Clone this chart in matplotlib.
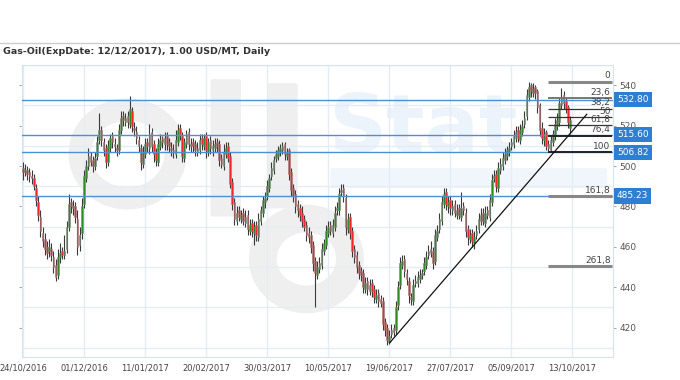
import matplotlib
matplotlib.use("Agg")
from matplotlib import pyplot as plt
from matplotlib.patches import Circle, FancyBboxPatch

# daily candles, 24/10/2016 -> mid Oct 2017 (USD/MT)
opens = [
    499, 497, 498, 497, 495, 494, 489, 482, 475, 467, 464, 460, 458, 459,
    455, 451, 446, 455, 458, 456, 459, 470, 482, 479, 480, 474, 461, 467,
    481, 494, 500, 505, 503, 500, 505, 513, 518, 512, 509, 502, 509, 515,
    511, 509, 508, 518, 525, 522, 525, 521, 527, 519, 517, 513, 509, 501,
    506, 512, 509, 517, 511, 507, 502, 510, 514, 511, 515, 512, 509, 508,
    506, 512, 519, 515, 504, 511, 517, 510, 512, 511, 507, 508, 514, 510,
    515, 507, 513, 508, 509, 512, 511, 504, 500, 506, 510, 505, 492, 482,
    473, 478, 474, 477, 472, 476, 468, 472, 467, 471, 465, 473, 477, 482,
    485, 489, 495, 498, 504, 505, 507, 508, 511, 505, 508, 497, 489, 486,
    481, 479, 477, 474, 471, 467, 466, 461, 453, 446, 449, 451, 458, 461,
    467, 471, 467, 470, 478, 478, 487, 489, 484, 469, 475, 468, 459, 456,
    451, 448, 447, 439, 443, 438, 442, 439, 434, 437, 434, 433, 423, 420,
    413, 417, 420, 419, 431, 441, 451, 454, 447, 443, 435, 433, 442, 442,
    444, 446, 448, 451, 456, 459, 458, 453, 465, 469, 473, 481, 487, 480,
    483, 478, 481, 476, 479, 475, 480, 477, 469, 464, 467, 462, 466, 469,
    473, 477, 472, 478, 475, 482, 494, 496, 489, 498, 500, 503, 505, 507,
    510, 511, 514, 518, 513, 517, 521, 525, 534, 540, 536, 539, 537, 530,
    519, 513, 517, 511, 508, 512, 515, 520, 522, 530, 535, 532, 529, 519,
]
highs = [
    502, 501, 500, 499, 498, 496, 491, 485, 478, 470, 467, 463, 464, 462,
    458, 454, 459, 462, 460, 466, 473, 486, 484, 483, 482, 478, 470, 484,
    498, 503, 509, 507, 505, 507, 515, 526, 520, 514, 511, 513, 516, 517,
    514, 511, 521, 527, 527, 526, 527, 534.6, 529, 522, 520, 515, 511, 510,
    514, 514, 521, 519, 513, 509, 514, 516, 515, 517, 517, 514, 512, 511,
    518, 521, 521, 517, 514, 518, 519, 514, 514, 513, 512, 516, 516, 516,
    517, 514, 515, 513, 514, 514, 513, 506, 511, 512, 512, 507, 494, 484,
    480, 480, 478, 479, 478, 478, 474, 474, 473, 473, 477, 480, 485, 487,
    493, 496, 502, 505, 508, 510, 511, 512, 512, 509, 509, 499, 491, 488,
    483, 481, 480, 476, 473, 470, 468, 463, 455, 453, 455, 462, 464, 471,
    473, 473, 474, 480, 482, 489, 491, 491, 486, 477, 477, 470, 461, 458,
    453, 450, 449, 445, 445, 444, 444, 441, 439, 439, 436, 435, 425, 422,
    419, 422, 422, 433, 443, 455, 456, 456, 449, 445, 437, 444, 446, 448,
    449, 449, 455, 458, 461, 463, 460, 469, 471, 477, 485, 489, 489, 485,
    485, 483, 483, 481, 481, 487, 482, 479, 471, 469, 469, 468, 471, 477,
    479, 479, 480, 480, 486, 496, 498, 498, 502, 504, 507, 509, 510, 512,
    514, 518, 520, 520, 521, 523, 527, 538, 541.75, 541, 541, 540, 538, 531,
    522, 519, 518, 513, 515, 518, 524, 526, 534, 538.7, 537, 534, 530, 525,
]
lows = [
    493, 495, 493, 492, 491, 488, 480, 473, 465, 460, 456, 454, 455, 453,
    447, 443, 444, 452, 454, 454, 457, 468, 477, 476, 472, 456, 458, 464,
    479, 492, 498, 500, 497, 498, 503, 511, 510, 505, 499, 500, 507, 509,
    507, 505, 506, 516, 520, 520, 519, 519, 517, 515, 511, 507, 498, 499,
    504, 507, 506, 507, 502, 500, 500, 508, 509, 508, 508, 507, 505, 504,
    504, 510, 513, 502, 502, 509, 508, 507, 507, 505, 505, 506, 508, 508,
    504, 505, 506, 505, 507, 507, 500, 499, 498, 504, 502, 489, 478, 471,
    471, 473, 472, 471, 470, 466, 466, 465, 461, 463, 463, 471, 475, 479,
    483, 487, 493, 496, 502, 503, 505, 506, 503, 503, 493, 485, 482, 477,
    475, 473, 470, 468, 463, 462, 457, 448, 430, 444, 447, 449, 456, 459,
    465, 466, 465, 468, 476, 476, 485, 482, 466, 467, 464, 455, 452, 447,
    444, 443, 437, 437, 436, 436, 435, 432, 432, 430, 430, 419, 416, 411.4,
    412, 415, 416, 417, 429, 439, 449, 445, 441, 432, 431, 431, 440, 440,
    442, 444, 446, 449, 454, 455, 449, 451, 463, 467, 471, 479, 478, 477,
    476, 476, 475, 474, 474, 473, 476, 465, 461, 462, 460, 459, 464, 467,
    471, 471, 470, 474, 473, 480, 492, 487, 487, 496, 498, 501, 503, 505,
    508, 509, 512, 512, 511, 515, 519, 523, 532, 534, 534, 533, 526, 515,
    511, 510, 508, 506.82, 507, 510, 513, 518, 520, 528, 528, 526, 519, 516,
]
closes = [
    497, 498, 496, 495, 494, 490, 483, 476, 468, 463, 459, 457, 460, 456,
    450, 445, 455, 457, 456, 458, 470, 481, 480, 480, 475, 460, 466, 480,
    495, 500, 505, 502, 500, 504, 512, 518, 513, 508, 502, 510, 514, 512,
    510, 508, 518, 524, 523, 524, 522, 528, 520, 518, 514, 510, 502, 507,
    511, 510, 516, 510, 506, 503, 511, 513, 512, 514, 511, 510, 508, 507,
    513, 518, 516, 505, 512, 516, 511, 511, 510, 508, 509, 513, 511, 514,
    508, 512, 509, 510, 511, 510, 503, 501, 507, 509, 504, 491, 481, 474,
    477, 475, 476, 473, 475, 469, 471, 468, 470, 466, 474, 478, 483, 484,
    490, 494, 499, 503, 506, 508, 509, 510, 506, 507, 496, 488, 485, 480,
    478, 476, 473, 470, 466, 465, 460, 452, 447, 450, 452, 459, 462, 468,
    470, 468, 471, 477, 479, 486, 488, 485, 470, 474, 467, 458, 455, 450,
    447, 446, 440, 442, 439, 441, 438, 435, 436, 433, 432, 422, 419, 414,
    416, 419, 418, 430, 440, 452, 453, 448, 444, 436, 434, 441, 443, 445,
    446, 447, 452, 455, 458, 457, 452, 466, 468, 474, 482, 486, 481, 482,
    479, 480, 477, 478, 476, 479, 478, 468, 465, 466, 463, 465, 468, 474,
    476, 473, 477, 476, 483, 493, 495, 490, 499, 501, 504, 506, 508, 509,
    512, 515, 517, 514, 518, 520, 524, 535, 539, 537, 538, 536, 529, 518,
    514, 516, 510, 509, 513, 516, 521, 523, 531, 534, 531, 528, 522, 523,
]

date_labels = ['24/10/2016', '01/12/2016', '11/01/2017', '20/02/2017', '30/03/2017',
               '10/05/2017', '19/06/2017', '27/07/2017', '05/09/2017', '13/10/2017']
label_step = 28          # bars between date labels

price_levels = [532.80, 515.60, 506.82, 485.23]

fib_high = 541.75
fib_low = 506.82
fib_start = 240.7        # bar of the swing low
fib_ratios = [0, 23.6, 38.2, 50, 61.8, 76.4, 100, 161.8, 261.8]
fib_names = ['0', '23,6', '38,2', '50', '61,8', '76,4', '100', '161,8', '261,8']

trend_x = [168.2, 258.6]
trend_y = [412.5, 525.6]

W, H = 680, 380
fig = plt.figure(figsize=(W / 100, H / 100), dpi=100)

# header
fig.text(3 / W, 1 - 51 / H, 'Gas-Oil(ExpDate: 12/12/2017), 1.00 USD/MT, Daily',
         fontsize=6.8, fontweight='bold', color='#333333', va='center', ha='left')
fig.add_artist(plt.Line2D([0, 1], [1 - 43 / H, 1 - 43 / H], color='#cccccc', lw=1))

left, right, top, bottom = 22.3, 612.7, 65, 357
ax = fig.add_axes([left / W, 1 - bottom / H, (right - left) / W, (bottom - top) / H])
ax.set_xlim(-0.3, 270.5)
ax.set_ylim(405.5, 548.5)

# faint logo in the background
gray = '#efefef'
ax.add_patch(Circle((48, 506), 22, fill=False, ec=gray, lw=16, zorder=0))
ax.add_patch(FancyBboxPatch((87, 476), 12, 66, boxstyle='round,pad=1',
                            fc=gray, ec='none', zorder=0))
ax.add_patch(FancyBboxPatch((113, 480), 12, 60, boxstyle='round,pad=1',
                            fc=gray, ec='none', zorder=0))
ax.add_patch(Circle((130, 454), 20, fill=False, ec=gray, lw=20, zorder=0))
ax.text(140, 518, 'Stat', fontsize=58, color='#edf3fa', ha='left', va='center',
        zorder=0, fontweight='bold')
ax.add_patch(FancyBboxPatch((142, 490), 125, 8, boxstyle='round,pad=1',
                            fc='#f1f6fc', ec='none', zorder=0))

# grid
ax.set_xticks([i * label_step for i in range(len(date_labels))])
ax.set_xticklabels(date_labels)
ax.set_yticks(range(420, 541, 20))
ax.set_yticks(range(410, 551, 20), minor=True)
ax.grid(True, axis='x', color='#e4edf6', lw=1)
ax.grid(True, axis='y', which='minor', color='#e4edf6', lw=1)
for s in ax.spines.values():
    s.set_color('#d6e4f2')
ax.tick_params(axis='x', length=0, labelsize=6, colors='#444444', pad=5)
ax.tick_params(axis='y', which='major', labelsize=6.5, colors='#555555',
               left=True, right=True, labelleft=False, labelright=True, length=2,
               color='#aaaaaa', pad=3)
ax.tick_params(axis='y', which='minor', length=0)

# candles
for i in range(len(closes)):
    o, h, l, c = opens[i], highs[i], lows[i], closes[i]
    col = '#2e8b22' if c >= o else '#ff2222'
    ax.vlines(i, l, h, color='#3a3a3a', lw=0.8, zorder=3)
    ax.bar(i, abs(c - o), bottom=min(o, c), width=0.75, color=col,
           edgecolor='#8a8a8a', lw=0.4, zorder=4)

# horizontal price levels
for p in price_levels:
    ax.axhline(p, color='#4a90d9', lw=1, zorder=5)
    ax.annotate('%.2f' % p, xy=(1, p), xycoords=('axes fraction', 'data'),
                xytext=(3, 0), textcoords='offset points', ha='left', va='center',
                fontsize=6.5, color='white', annotation_clip=False, zorder=10,
                bbox=dict(boxstyle='square,pad=0.35', fc='#2d7fd3', ec='none'))

# fibonacci
for r, name in zip(fib_ratios, fib_names):
    lvl = fib_high - r / 100 * (fib_high - fib_low)
    if r in (0, 161.8, 261.8):
        c, lw = '#888888', 2.2
    elif r == 23.6:
        c, lw = '#777777', 1.4
    elif r in (76.4, 100):
        c, lw = '#222222', 1.4
    else:
        c, lw = '#333333', 0.9
    ax.plot([fib_start, 270], [lvl, lvl], color=c, lw=lw, zorder=6,
            solid_capstyle='butt')
    ax.text(269.5, lvl + 0.6, name, ha='right', va='bottom', fontsize=6.5,
            color='#444444', zorder=7)

# trend line
ax.plot(trend_x, trend_y, color='#111111', lw=0.9, zorder=6)

fig.savefig('out.png', dpi=100)
